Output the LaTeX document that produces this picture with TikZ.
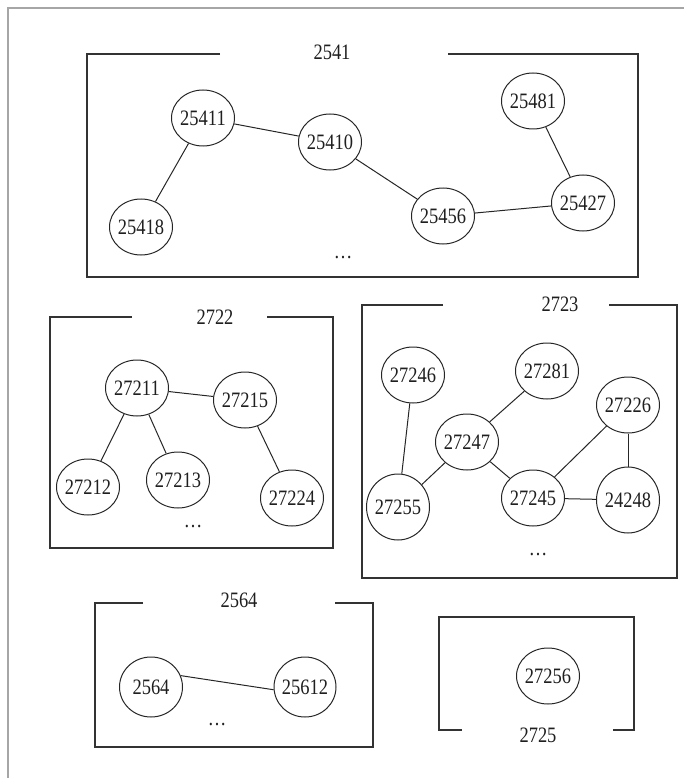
\documentclass[tikz,border=0pt]{standalone}
\usepackage{fontspec}
\setmainfont{Liberation Serif}[FakeStretch=0.84]
\usetikzlibrary{shapes.geometric}
\begin{document}
\begin{tikzpicture}[x=1pt,y=-1pt,
  nd/.style={ellipse,draw=black!85,line width=1pt,minimum width=63pt,minimum height=56pt,inner xsep=-5pt,inner ysep=0pt,text=black!88,font=\fontsize{22}{22}\selectfont},
  tall/.style={minimum height=66pt,minimum width=63pt},
  ttl/.style={inner sep=0pt,text=black!88,font=\fontsize{22}{22}\selectfont},
  edge/.style={draw=black!85,line width=1pt},
  grp/.style={draw=black!80,line width=1.2pt},
  frame/.style={draw=black!35,line width=1.4pt}
]
\useasboundingbox (0,0) rectangle (684,778);
% outer frame
\draw[frame] (8,778) -- (8,8) -- (684,8);

% ---- group 2541
\draw[grp] (220,54) -- (87,54) -- (87,277) -- (638,277) -- (638,54) -- (448,54);
\node[ttl] (t2541) at (332,52) {2541};
\node[nd] (a25411) at (203,118) {25411};
\node[nd] (a25410) at (330,142) {25410};
\node[nd] (a25418) at (141,227) {25418};
\node[nd] (a25456) at (443,216) {25456};
\node[nd] (a25427) at (583,203) {25427};
\node[nd] (a25481) at (533,101) {25481};
\node[ttl] (d2541) at (343,258) {…};
\draw[edge] (a25411) -- (a25410);
\draw[edge] (a25411) -- (a25418);
\draw[edge] (a25410) -- (a25456);
\draw[edge] (a25456) -- (a25427);
\draw[edge] (a25427) -- (a25481);

% ---- group 2722
\draw[grp] (132,317) -- (50,317) -- (50,548) -- (333,548) -- (333,317) -- (267,317);
\node[ttl] (t2722) at (215,317) {2722};
\node[nd] (b27211) at (137,388) {27211};
\node[nd] (b27215) at (245,400) {27215};
\node[nd] (b27212) at (88,487) {27212};
\node[nd] (b27213) at (178,480) {27213};
\node[nd] (b27224) at (292,498) {27224};
\node[ttl] (d2722) at (193,527) {…};
\draw[edge] (b27211) -- (b27215);
\draw[edge] (b27211) -- (b27212);
\draw[edge] (b27211) -- (b27213);
\draw[edge] (b27215) -- (b27224);

% ---- group 2723
\draw[grp] (443,305) -- (362,305) -- (362,578) -- (677,578) -- (677,305) -- (609,305);
\node[ttl] (t2723) at (560,304) {2723};
\node[nd] (c27246) at (413,375) {27246};
\node[nd] (c27281) at (547,371) {27281};
\node[nd] (c27226) at (628,405) {27226};
\node[nd] (c27247) at (467,442) {27247};
\node[nd,tall] (c27255) at (398,507) {27255};
\node[nd] (c27245) at (533,498) {27245};
\node[nd,tall] (c24248) at (628,500) {24248};
\node[ttl] (d2723) at (538,555) {…};
\draw[edge] (c27246) -- (c27255);
\draw[edge] (c27255) -- (c27247);
\draw[edge] (c27247) -- (c27281);
\draw[edge] (c27247) -- (c27245);
\draw[edge] (c27245) -- (c27226);
\draw[edge] (c27245) -- (c24248);
\draw[edge] (c27226) -- (c24248);

% ---- group 2564
\draw[grp] (143,603) -- (95,603) -- (95,747) -- (373,747) -- (373,603) -- (335,603);
\node[ttl] (t2564) at (239,600) {2564};
\node[nd,minimum height=60pt] (e2564) at (151,687) {2564};
\node[nd,minimum height=60pt,minimum width=62pt] (e25612) at (305,687) {25612};
\node[ttl] (d2564) at (217,725) {…};
\draw[edge] (e2564.21) -- (e25612.185);

% ---- group 2725
\draw[grp] (462,730) -- (439,730) -- (439,617) -- (634,617) -- (634,730) -- (613,730);
\node[ttl] (t2725) at (538,735) {2725};
\node[nd] (f27256) at (548,676) {27256};
\end{tikzpicture}
\end{document}
